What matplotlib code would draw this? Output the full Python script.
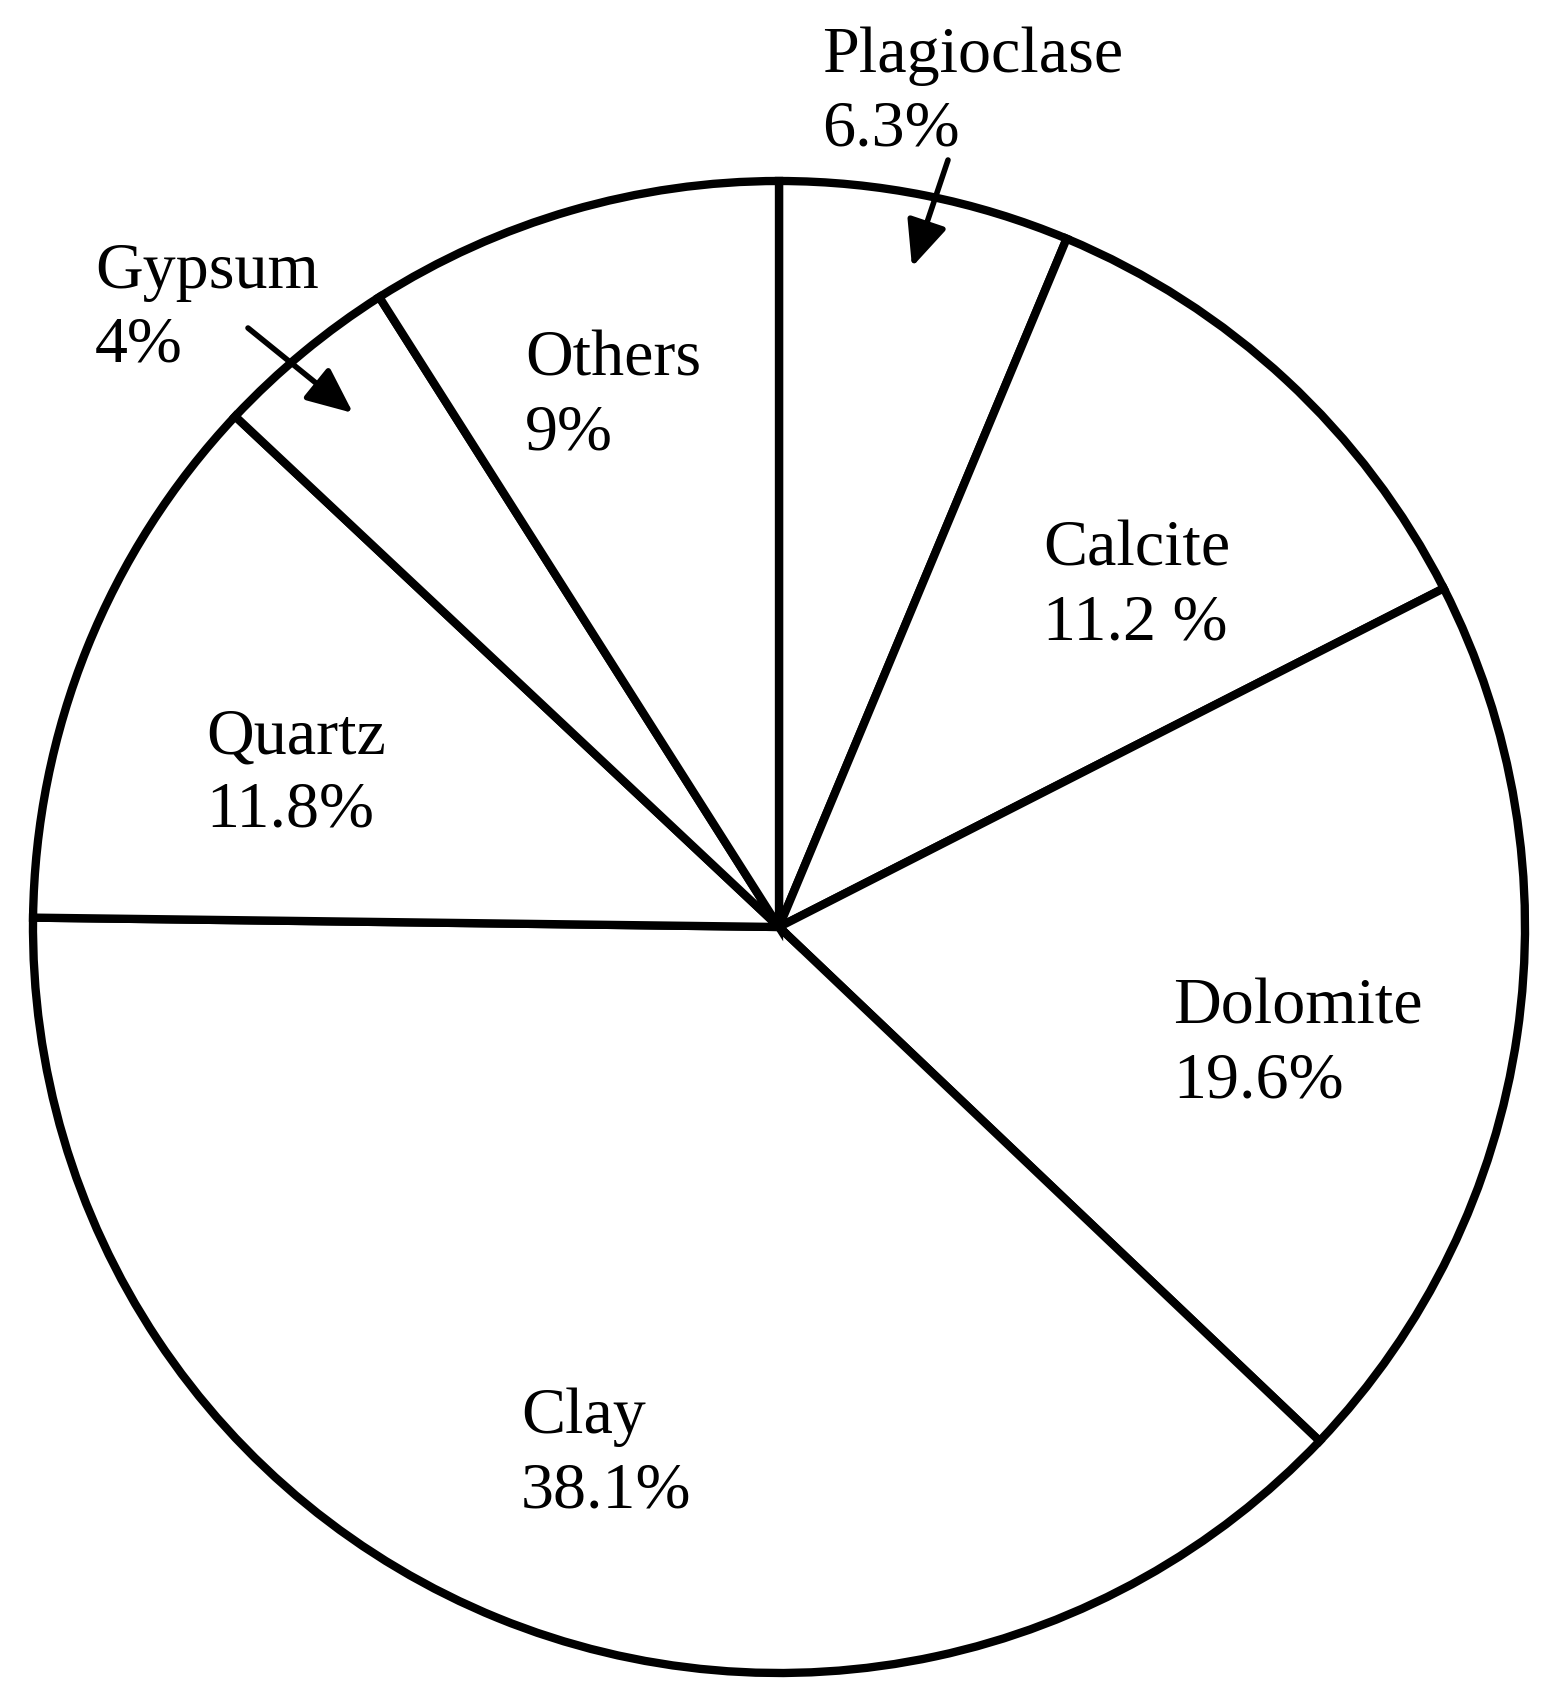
import matplotlib.pyplot as plt

# mineral composition (%)
minerals = ["Plagioclase", "Calcite", "Dolomite", "Clay", "Quartz", "Gypsum", "Others"]
percents = [6.3, 11.2, 19.6, 38.1, 11.8, 4, 9]
pct_text = ["6.3%", "11.2 %", "19.6%", "38.1%", "11.8%", "4%", "9%"]

W, H = 1553, 1707
plt.rcParams['font.family'] = ['Liberation Serif', 'DejaVu Serif']

fig = plt.figure(figsize=(W / 100, H / 100), dpi=100)
ax = fig.add_axes([0, 0, 1, 1])

# pie center / radius in pixels
cx, cy, r = 779, 927, 746
ax.pie(percents, startangle=90, counterclock=False, radius=1,
       colors=['white'] * len(percents),
       wedgeprops=dict(edgecolor='black', linewidth=6))
ax.set_xlim(-cx / r, (W - cx) / r)
ax.set_ylim(-(H - cy) / r, cy / r)
ax.set_aspect('auto')
ax.axis('off')

# label anchor (left, first baseline) in pixels
label_pos = {
    "Plagioclase": (822, 72),
    "Calcite": (1043, 565),
    "Dolomite": (1173, 1023),
    "Clay": (521, 1433),
    "Quartz": (206, 753),
    "Gypsum": (95, 288),
    "Others": (525, 375),
}
line_gap = 74
fs = 47.5

for name, pct in zip(minerals, pct_text):
    x, y = label_pos[name]
    fig.text(x / W, 1 - y / H, name, fontsize=fs, ha='left', va='baseline')
    fig.text(x / W, 1 - (y + line_gap) / H, pct, fontsize=fs, ha='left', va='baseline')

# arrows for the thin slices (pixels: tail -> tip)
arrows = [((948, 160), (912, 267)), ((248, 328), (353, 413))]
for (x0, y0), (x1, y1) in arrows:
    ax.annotate("", xy=((x1 - cx) / r, (cy - y1) / r), xytext=((x0 - cx) / r, (cy - y0) / r),
                arrowprops=dict(arrowstyle='-|>,head_length=1.4,head_width=0.62',
                                mutation_scale=20, color='black', lw=4,
                                shrinkA=0, shrinkB=0))

plt.savefig("out.png", dpi=100)
